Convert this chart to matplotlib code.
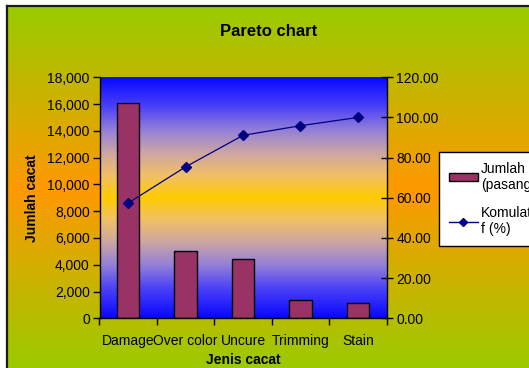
import numpy as np
import matplotlib
matplotlib.use('Agg')
import matplotlib.pyplot as plt
from matplotlib.colors import LinearSegmentedColormap
from matplotlib.patches import Patch
from matplotlib.lines import Line2D

plt.rcParams['font.family'] = ['Liberation Sans', 'DejaVu Sans']

# Defect categories and counts (pairs), with cumulative percentage
categories = ["Damage", "Over color", "Uncure", "Trimming", "Stain"]
counts = [16100, 5050, 4400, 1340, 1160]
cumulative_pct = [57.4, 75.4, 91.1, 95.9, 100.0]

left_ticks = [0, 2000, 4000, 6000, 8000, 10000, 12000, 14000, 16000, 18000]
right_ticks = [0, 20, 40, 60, 80, 100, 120]

W, H = 529, 368
fig = plt.figure(figsize=(W / 100, H / 100), dpi=100)
fig.patch.set_facecolor("white")

# Chart area background: green -> orange -> green
x0, ytop = 7 / W, 1 - 6 / H
bg = fig.add_axes([x0, -0.01, 1 - x0 + 0.01, ytop + 0.01])
bg_cmap = LinearSegmentedColormap.from_list(
    "chartbg", [(0.0, "#99cc00"), (0.5, "#ff9900"), (1.0, "#99cc00")])
bg.imshow(np.linspace(0, 1, 256).reshape(-1, 1), cmap=bg_cmap, aspect="auto",
          extent=(0, 1, 0, 1), origin="upper")
bg.set_xlim(0, 1)
bg.set_ylim(0, 1)
bg.set_xticks([])
bg.set_yticks([])
for side in ["right", "bottom"]:
    bg.spines[side].set_visible(False)
for side in ["left", "top"]:
    bg.spines[side].set_color("#1a1a1a")
    bg.spines[side].set_linewidth(1.6)
bg.set_zorder(0)

# Plot area
ax = fig.add_axes([99.5 / W, 1 - 318.3 / H, 287 / W, 241 / H])
ax.set_zorder(1)
plot_cmap = LinearSegmentedColormap.from_list(
    "plotbg", [(0.0, "#0808ff"), (0.12, "#4a40f8"), (0.22, "#9480d8"),
               (0.32, "#d0a8a0"), (0.41, "#f2c064"), (0.5, "#ffcc00"),
               (0.59, "#f2c064"), (0.68, "#d0a8a0"), (0.78, "#9480d8"),
               (0.88, "#4a40f8"), (1.0, "#0808ff")])
ax.imshow(np.linspace(0, 1, 256).reshape(-1, 1), cmap=plot_cmap, aspect="auto",
          extent=(-0.5, 4.5, 0, 18000), origin="upper", zorder=0)

x = np.arange(len(categories))
ax.bar(x, counts, width=0.39, color="#993366", edgecolor="black",
       linewidth=1.0, zorder=2)

ax.set_xlim(-0.5, 4.5)
ax.set_ylim(0, 18000)
ax.set_yticks(left_ticks)
ax.set_yticklabels([f"{v:,.0f}" for v in left_ticks], fontsize=10)
ax.tick_params(axis="y", direction="out", length=5, width=1, pad=2)

ax.set_xticks(np.arange(-0.5, 5, 1))
ax.set_xticklabels([])
ax.tick_params(axis="x", which="major", direction="out", length=5, width=1)
ax.set_xticks(x, minor=True)
ax.set_xticklabels(categories, minor=True, fontsize=10)
ax.tick_params(axis="x", which="minor", length=0, pad=11)

ax.set_xlabel("Jenis cacat", fontsize=10, fontweight="bold", labelpad=4)
ax.set_ylabel("Jumlah cacat", fontsize=10, fontweight="bold", labelpad=6)

for side in ["left", "bottom"]:
    ax.spines[side].set_color("black")
    ax.spines[side].set_linewidth(1.0)
ax.spines["top"].set_visible(False)
ax.spines["right"].set_visible(False)

# Cumulative percentage on secondary axis
ax2 = ax.twinx()
ax2.set_zorder(2)
ax2.plot(x, cumulative_pct, color="#000080", linewidth=0.9, marker="D",
         markersize=5, markerfacecolor="#000080", markeredgecolor="#000080")
ax2.set_ylim(0, 120)
ax2.set_yticks(right_ticks)
ax2.set_yticklabels([f"{v:.2f}" for v in right_ticks], fontsize=10)
ax2.tick_params(axis="y", direction="inout", length=8, width=1, pad=3)
for side in ["left", "top", "bottom"]:
    ax2.spines[side].set_visible(False)
ax2.spines["right"].set_color("black")
ax2.spines["right"].set_linewidth(1.0)

fig.text(269 / W, 1 - 31 / H, "Pareto chart", ha="center", va="center",
         fontsize=12, fontweight="bold")

# Legend sits partly beyond the right edge of the chart
handles = [
    Patch(facecolor="#993366", edgecolor="black", linewidth=1.0),
    Line2D([0], [0], color="#000080", linewidth=1.0, marker="D", markersize=4,
           markerfacecolor="#000080"),
]
leg = fig.legend(handles, ["Jumlah\n(pasang)", "Komulati\nf (%)"],
                 loc="upper left", bbox_to_anchor=(439 / W, 1 - 152 / H),
                 fontsize=10, frameon=True, fancybox=False, framealpha=1,
                 edgecolor="black", handlelength=2.1, handleheight=0.5,
                 handletextpad=0.2, borderpad=0.7, labelspacing=1.0,
                 borderaxespad=0)
leg.get_frame().set_linewidth(1.0)

fig.savefig("out.png", dpi=100)
